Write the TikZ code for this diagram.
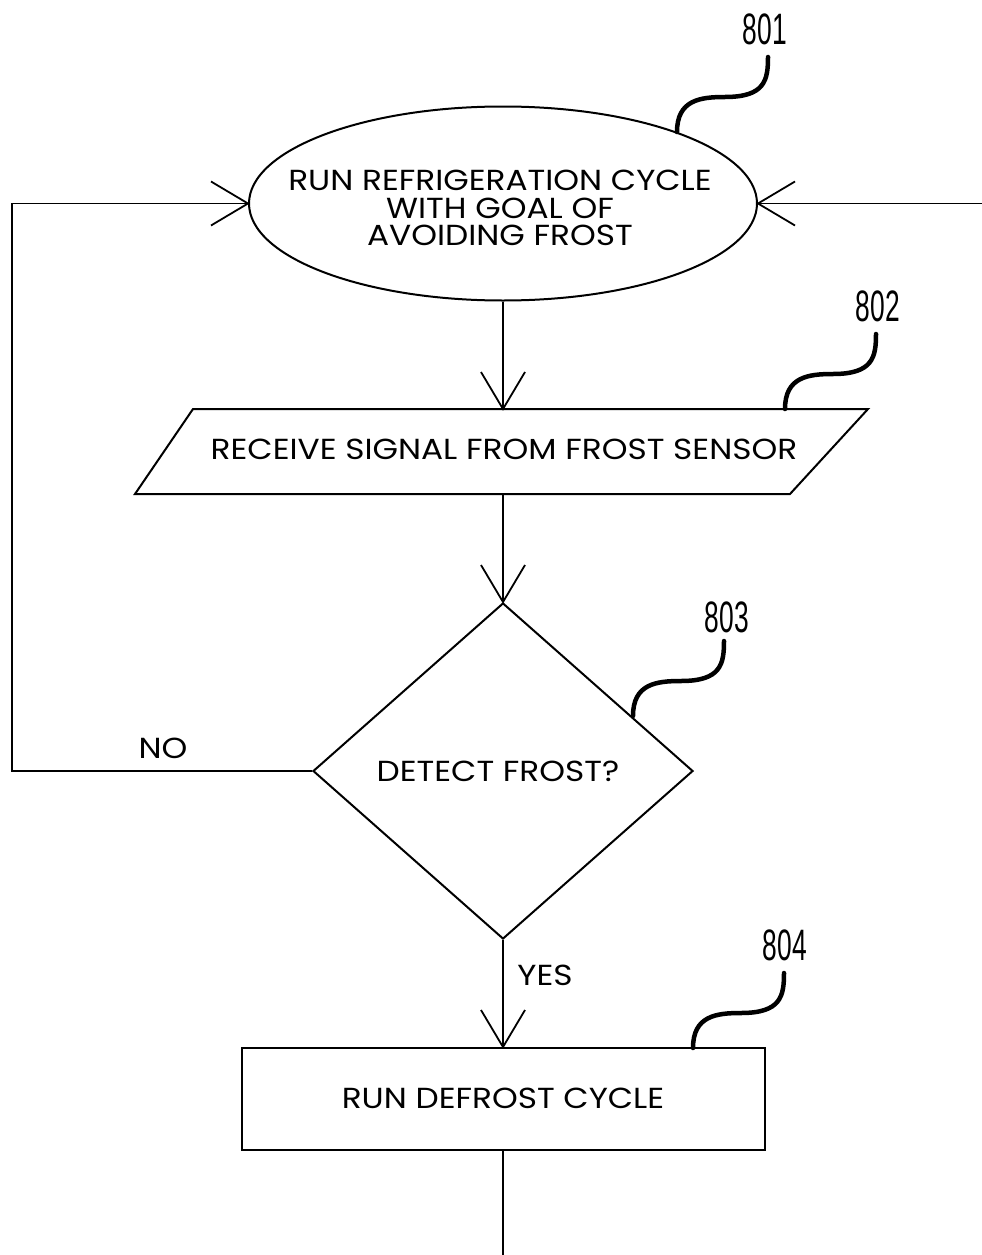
\documentclass[tikz,border=0pt]{standalone}
\usepackage{fontspec}
\setmainfont{Poppins}[FakeStretch=1.13]
\newfontfamily\numfont{Liberation Sans}
\usetikzlibrary{shapes.geometric,arrows.meta}
\pgfdeclarearrow{
  name = VLines,
  parameters = {\the\pgfarrowlength,\the\pgfarrowwidth},
  setup code = {
    \pgfarrowssettipend{0pt}
    \pgfarrowssetlineend{0pt}
    \pgfarrowshullpoint{0pt}{0pt}
    \pgfarrowsupperhullpoint{-\pgfarrowlength}{.5\pgfarrowwidth}
    \pgfarrowssavethe\pgfarrowlength
    \pgfarrowssavethe\pgfarrowwidth
  },
  drawing code = {
    \pgfsetdash{}{0pt}
    \pgfsetmiterjoin
    \pgfpathmoveto{\pgfqpoint{-\pgfarrowlength}{.5\pgfarrowwidth}}
    \pgfpathlineto{\pgfpointorigin}
    \pgfpathlineto{\pgfqpoint{-\pgfarrowlength}{-.5\pgfarrowwidth}}
    \pgfusepathqstroke
  },
  defaults = {length=37pt, width=44pt}
}
\newcommand{\leaderline}[1]{\draw[leader] (#1) .. controls +(0,-32) and +(-25,0) .. ++(48,-35) .. controls +(40,0) and +(0,23) .. ++(43,-40);}
\begin{document}
\begin{tikzpicture}[x=1pt,y=-1pt,
  shapeline/.style={line width=2pt},
  conn/.style={line width=1.8pt},
  arr/.style={conn,-{VLines[length=37pt,width=44pt]}},
  leader/.style={line width=4.5pt, line cap=round},
  txt/.style={font=\fontsize{29}{27.5}\selectfont, align=center, inner sep=0pt},
  num/.style={font=\fontsize{44}{44}\selectfont\numfont, inner sep=0pt}
]
\useasboundingbox (0,0) rectangle (982,1255);
\fill[white] (0,0) rectangle (982,1255);

% 801 ellipse
\node[ellipse, draw, shapeline, minimum width=508pt, minimum height=194pt, inner sep=0pt] (s801) at (503,203.5) {};
\node[txt] (t801) at (500,208) {RUN REFRIGERATION CYCLE\\WITH GOAL OF\\AVOIDING FROST};

% 802 parallelogram
\coordinate (p802nw) at (193,409);
\coordinate (p802ne) at (868,409);
\coordinate (p802se) at (790,494);
\coordinate (p802sw) at (135,494);
\draw[shapeline, line join=miter] (p802nw) -- (p802ne) -- (p802se) -- (p802sw) -- cycle;
\coordinate (p802n) at (503,409);
\coordinate (p802s) at (503,494);
\node[txt] (t802) at (504,449) {RECEIVE SIGNAL FROM FROST SENSOR};

% 803 diamond
\node[diamond, draw, shapeline, minimum width=380pt, minimum height=336pt, inner sep=0pt] (d803) at (503,771) {};
\node[txt] (t803) at (498,771) {DETECT FROST?};

% 804 rectangle
\node[draw, shapeline, minimum width=523pt, minimum height=102pt, inner sep=0pt] (r804) at (503,1099) {};
\node[txt] (t804) at (503,1098) {RUN DEFROST CYCLE};

% connectors
\coordinate (rin) at (982,203.5);
\coordinate (bend) at (503,1255);
\draw[arr] (rin) -- (s801.east);
\draw[arr] (d803.west) -- ++(-300,0) |- (s801.west);
\draw[arr] (s801.south) -- (p802n);
\draw[arr] (p802s) -- (d803.north);
\draw[arr] (d803.south) -- (r804.north);
\draw[conn] (r804.south) -- (bend);

\node[txt] (no) at (163,748) {NO};
\node[txt] (yes) at (545,975) {YES};

% leaders
\coordinate (l801) at (677,132);
\coordinate (l802) at (785,409);
\coordinate (l803) at (633,716);
\coordinate (l804) at (693,1048);
\leaderline{l801}
\leaderline{l802}
\leaderline{l803}
\leaderline{l804}

\node[num] (n801) at (765,29) {\scalebox{0.6}[1]{801}};
\node[num] (n802) at (878,306) {\scalebox{0.6}[1]{802}};
\node[num] (n803) at (727,617) {\scalebox{0.6}[1]{803}};
\node[num] (n804) at (785,945) {\scalebox{0.6}[1]{804}};
\end{tikzpicture}
\end{document}
